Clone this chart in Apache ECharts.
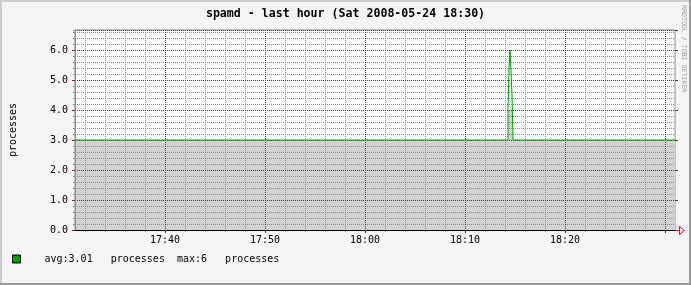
<!DOCTYPE html>
<html>
<head>
<meta charset="utf-8">
<script src="https://cdn.jsdelivr.net/npm/echarts@6/dist/echarts.min.js"></script>
<style>
html,body{margin:0;padding:0;background:#f4f4f4;}
#c{width:691px;height:285px;}
</style>
</head>
<body>
<div id="c"></div>
<script>
// ---- data ----
const titleText = 'spamd - last hour (Sat 2008-05-24 18:30)';
const day = '2008-05-24';
const startTime = '17:31:00';
const endTime = '18:31:00';
const times = ['17:31:00', '18:14:18', '18:14:24', '18:14:30', '18:14:42', '18:14:48', '18:31:00'];
const maxValues = [3.0, 4.0, 5.4, 6.0, 4.5, 3.0, 3.0];
const avgValues = [3.0, 4.0, 4.0, 4.0, 4.0, 3.0, 3.0];
const xTickLabels = ['17:40', '17:50', '18:00', '18:10', '18:20'];
const xMajorTicks = ['17:40', '17:50', '18:00', '18:10', '18:20', '18:30'];
const xMinorTicks = ['17:32', '17:34', '17:36', '17:38', '17:42', '17:44', '17:46', '17:48',
                     '17:52', '17:54', '17:56', '17:58', '18:02', '18:04', '18:06', '18:08',
                     '18:12', '18:14', '18:16', '18:18', '18:22', '18:24', '18:26', '18:28'];
const yMin = 0, yMax = 6.6667, yStep = 1, yMinorStep = 0.2;
const yAxisName = 'processes';
const legendText = 'avg:3.01   processes  max:6   processes';
const creditText = 'RRDTOOL / TOBI OETIKER';

const toDate = t => new Date(day + 'T' + (t.length === 5 ? t + ':00' : t));
const toMs = t => toDate(t).getTime();
const mono = 'DejaVu Sans Mono';
const green = '#00a000';
const major = '#8b1a1a';
const minor = '#8a8a8a';
const pad = n => (n < 10 ? '0' : '') + n;
const xMin = toMs(startTime), xMax = toMs(endTime);

const chart = echarts.init(document.getElementById('c'), null, {renderer: 'canvas'});

const borders = [
  {type: 'rect', shape: {x: 0, y: 0, width: 691, height: 2}, style: {fill: '#cccccc'}, silent: true},
  {type: 'rect', shape: {x: 0, y: 0, width: 2, height: 285}, style: {fill: '#cccccc'}, silent: true},
  {type: 'rect', shape: {x: 0, y: 283, width: 691, height: 2}, style: {fill: '#999999'}, silent: true},
  {type: 'rect', shape: {x: 689, y: 0, width: 2, height: 285}, style: {fill: '#999999'}, silent: true},
  {type: 'text', x: 680, y: 5, rotation: -Math.PI / 2,
   style: {text: creditText, fontFamily: mono, fontSize: 6.6, fill: '#9a9a9a',
           align: 'left', verticalAlign: 'bottom'}, silent: true}
];

chart.setOption({
  animation: false,
  backgroundColor: '#f4f4f4',
  title: {
    text: titleText, left: 'center', top: 7, padding: 0,
    textStyle: {fontFamily: mono, fontSize: 11.6, fontWeight: 'bold', color: '#000', lineHeight: 14}
  },
  grid: {left: 75, top: 30, width: 600, height: 200, show: true,
         backgroundColor: '#ffffff', borderColor: '#8c8c8c', borderWidth: 1},
  legend: {
    data: ['processes'], left: 12, top: 254, padding: 0, icon: 'rect', itemWidth: 8, itemHeight: 8,
    formatter: () => legendText,
    itemStyle: {color: green, borderColor: '#000', borderWidth: 1},
    textStyle: {fontFamily: mono, fontSize: 10, color: '#000', padding: [0, 0, 0, 19]},
    selectedMode: false
  },
  xAxis: [{
    // major: labels, red ticks, red dotted grid every 10 minutes
    type: 'value', z: 3, min: xMin, max: xMax,
    axisLine: {show: true, lineStyle: {color: '#000', width: 1}},
    axisTick: {show: true, length: 3, lineStyle: {color: major}, customValues: xMajorTicks.map(toMs)},
    axisLabel: {
      fontFamily: mono, fontSize: 10, color: '#000', margin: 5,
      customValues: xTickLabels.map(toMs),
      formatter: v => {
        const d = new Date(v);
        return pad(d.getHours()) + ':' + pad(d.getMinutes());
      }
    },
    splitLine: {show: true, lineStyle: {color: major, type: [1, 1], width: 1}}
  }, {
    // minor: grey dotted grid every 2 minutes
    type: 'value', z: 2, position: 'bottom', min: xMin, max: xMax,
    axisLine: {show: false},
    axisTick: {show: true, length: 2, lineStyle: {color: minor}, customValues: xMinorTicks.map(toMs)},
    axisLabel: {show: false},
    splitLine: {show: true, lineStyle: {color: minor, type: [1, 1], width: 1}}
  }],
  yAxis: [{
    type: 'value', z: 3, min: yMin, max: yMax, interval: yStep,
    name: yAxisName, nameLocation: 'middle', nameGap: 57,
    nameTextStyle: {fontFamily: mono, fontSize: 10, color: '#000'},
    axisLine: {show: true, lineStyle: {color: '#8c8c8c'}},
    axisTick: {show: true, length: 3, lineStyle: {color: major}},
    axisLabel: {fontFamily: mono, fontSize: 10, color: '#000', margin: 7,
                showMaxLabel: false, formatter: v => v.toFixed(1)},
    splitLine: {show: true, lineStyle: {color: major, type: [1, 1], width: 1}}
  }, {
    type: 'value', z: 2, position: 'left', min: yMin, max: yMax, interval: yMinorStep,
    axisLine: {show: false},
    axisTick: {show: true, length: 2, lineStyle: {color: minor}},
    axisLabel: {show: false},
    splitLine: {show: true, lineStyle: {color: minor, type: [1, 1], width: 1}}
  }, {
    type: 'value', z: 3, position: 'right', min: yMin, max: yMax, interval: yStep,
    axisLine: {show: false},
    axisTick: {show: true, length: 3, lineStyle: {color: major}},
    axisLabel: {show: false},
    splitLine: {show: false}
  }],
  graphic: borders,
  series: [{
    name: 'avg', type: 'line', step: 'end', z: 1, symbol: 'none',
    lineStyle: {width: 0, opacity: 0},
    areaStyle: {color: '#d2d2d2', opacity: 1},
    data: times.map((t, i) => [toMs(t), avgValues[i]])
  }, {
    name: 'processes', type: 'line', step: 'end', z: 4, symbol: 'none',
    lineStyle: {color: green, width: 1},
    itemStyle: {color: green},
    data: times.map((t, i) => [toMs(t), maxValues[i]])
  }]
});

// red arrow at the end of the x axis
const endPt = chart.convertToPixel({xAxisIndex: 0, yAxisIndex: 0}, [xMax, yMin]);
const ax = Math.round(endPt[0]) + 0.5, ay = Math.round(endPt[1]) + 0.5;
chart.setOption({
  graphic: borders.concat([
    {type: 'polyline', silent: true, z: 10,
     shape: {points: [[ax, ay], [ax + 4, ay]]}, style: {stroke: '#ff0000', lineWidth: 1}},
    {type: 'polygon', silent: true, z: 10,
     shape: {points: [[ax + 4, ay - 4], [ax + 9, ay], [ax + 4, ay + 4]]},
     style: {stroke: '#ff0000', fill: 'none', lineWidth: 1}}
  ])
}, {replaceMerge: ['graphic']});
</script>
</body>
</html>
